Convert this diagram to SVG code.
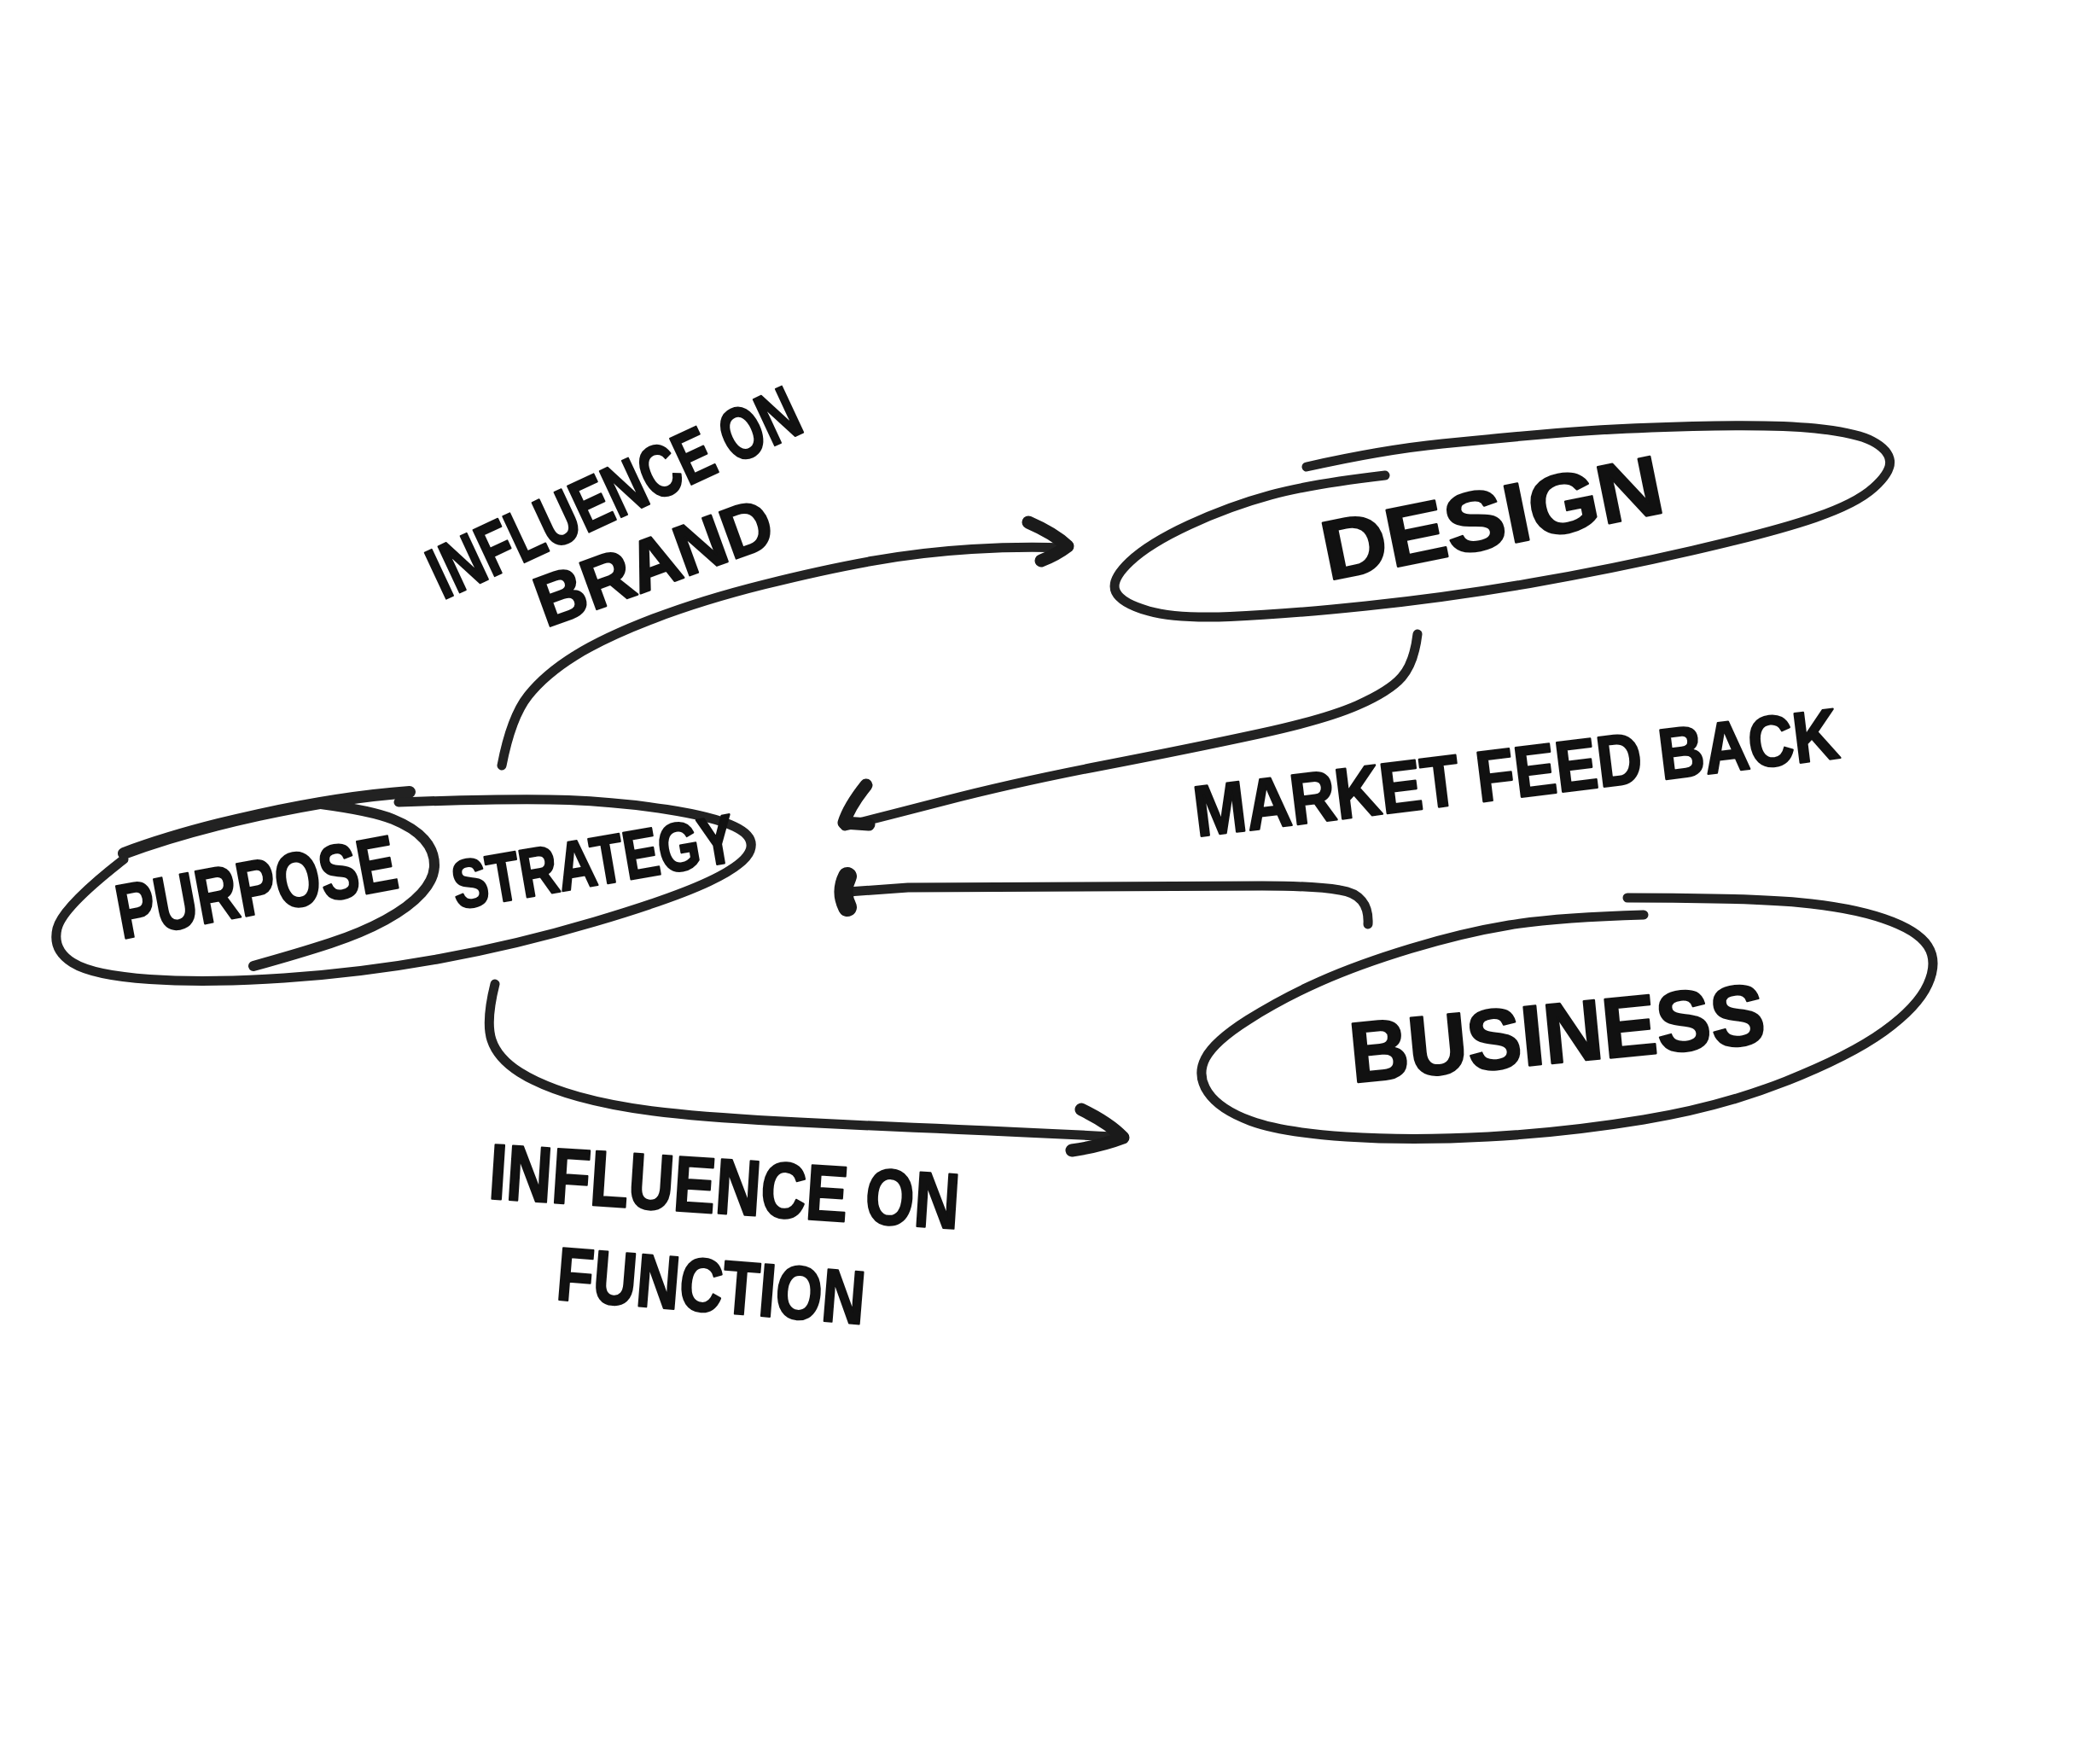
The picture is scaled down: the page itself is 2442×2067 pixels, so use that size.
<svg xmlns="http://www.w3.org/2000/svg" width="2442" height="2067" viewBox="0 0 2442 2067">
<style>
.ln{fill:none;stroke:#222222;stroke-width:11;stroke-linecap:round;stroke-linejoin:round}
.hd{fill:none;stroke:#1a1a1a;stroke-width:15;stroke-linecap:round;stroke-linejoin:round}
.tx{font-family:"Liberation Sans","DejaVu Sans",sans-serif;font-weight:bold;fill:#111111;stroke:#111111;stroke-width:2.5;stroke-linejoin:round;text-anchor:middle}
</style>
<rect width="2442" height="2067" fill="#ffffff"/>
<g id="node-purpose-strategy">
<path class="ln" d="M145,1000 C230,968 370,936 480,928" style="stroke-width:14"/>
<path class="ln" d="M467,940 Q606,935 666.5,937.5 Q727,940 781.5,948.5 Q836,957 860.5,968.5 Q885,980 879,996.5 Q873,1013 830.5,1033 Q788,1053 697,1080 Q606,1107 515,1123.5 Q424,1140 333,1146 Q242,1152 175.5,1147.5 Q109,1143 85,1128 Q61,1113 67,1088 Q73,1063 145,1007"/>
<path class="ln" d="M376,942 Q436,950 460.5,960 Q485,970 497,983.5 Q509,997 509,1013.5 Q509,1030 494,1046.5 Q479,1063 451.5,1078 Q424,1093 387.5,1105 Q351,1117 297,1132" style="stroke-width:12"/>
<text class="tx" x="306" y="1070" font-size="90" transform="rotate(-10.5 306 1070)" textLength="332" lengthAdjust="spacingAndGlyphs">PURPOSE</text>
<text class="tx" x="700" y="1037" font-size="80" transform="rotate(-9.8 700 1037)" textLength="335" lengthAdjust="spacingAndGlyphs">STRATEGY</text>
</g>
<g id="node-design">
<path class="ln" d="M1531,547 Q1620,527 1690,520 Q1760,513 1824,507.5 Q1888,502 1983.5,499.5 Q2079,497 2127,502 Q2175,507 2194,517 Q2213,527 2214.5,540 Q2216,553 2195.5,571.5 Q2175,590 2127,606.5 Q2079,623 1983.5,645 Q1888,667 1792.5,683.5 Q1697,700 1601,710 Q1505,720 1441.5,722.5 Q1378,725 1346,716 Q1314,707 1307.5,693.5 Q1301,680 1323.5,658.5 Q1346,637 1393.5,615 Q1441,593 1489,580 Q1537,567 1623,557"/>
<text class="tx" x="1755" y="640" font-size="98" transform="rotate(-11.5 1755 640)" textLength="405" lengthAdjust="spacingAndGlyphs">DESIGN</text>
</g>
<g id="node-business">
<path class="ln" d="M1926,1072 Q1823,1075 1768.5,1084 Q1714,1093 1653,1111.5 Q1592,1130 1547,1150 Q1502,1170 1462.5,1195 Q1423,1220 1412.5,1240 Q1402,1260 1415.5,1280 Q1429,1300 1465.5,1313.5 Q1502,1327 1577.5,1332 Q1653,1337 1744,1332 Q1835,1327 1926,1312 Q2017,1297 2092.5,1267 Q2168,1237 2207.5,1208.5 Q2247,1180 2259,1153.5 Q2271,1127 2259,1108.5 Q2247,1090 2207.5,1076.5 Q2168,1063 2107.5,1057.5 Q2047,1052 1907,1052"/>
<text class="tx" x="1828" y="1245" font-size="100" transform="rotate(-5.5 1828 1245)" textLength="488" lengthAdjust="spacingAndGlyphs">BUSINESS</text>
</g>
<g id="connectors">
<g id="edge-brand">
<path class="ln" d="M588,897 Q599,840 619,815 Q639,790 673.5,768.5 Q708,747 765.5,725 Q823,703 895,685 Q967,667 1024,657 Q1081,647 1138.5,643.5 Q1196,640 1248,642"/>
<path class="hd" d="M1205,612 Q1235,625 1251,640 Q1238,650 1220,657"/>
</g>
<g id="edge-market-feedback">
<path class="ln" d="M1661,743 Q1657,777 1642.5,793.5 Q1628,810 1590.5,826.5 Q1553,843 1474.5,860 Q1396,877 1292.5,897 Q1189,917 1106,938.5 Q1023,960 990,968"/>
<path class="hd" d="M1015,920 Q995,945 989,964 L1018,966"/>
</g>
<g id="edge-business">
<path class="ln" d="M1603,1083 Q1605,1048 1570,1043 Q1540,1038 1479,1038 L1064,1040 L994,1045"/>
<path class="hd" d="M993,1027 Q984,1045 993,1063" style="stroke-width:22"/>
</g>
<g id="edge-function">
<path class="ln" d="M580,1153 Q569,1197 576,1218.5 Q583,1240 609,1256.5 Q635,1273 678,1285 Q721,1297 778.5,1303.5 Q836,1310 936.5,1315 Q1037,1320 1123,1323.5 Q1209,1327 1306,1332"/>
<path class="hd" d="M1267,1300 Q1300,1316 1316,1333 Q1290,1343 1256,1348"/>
</g>
</g>
<g id="labels">
<text class="tx" x="732" y="604" font-size="86" transform="rotate(-25 732 604)" textLength="470" lengthAdjust="spacingAndGlyphs">INFLUENCE ON</text>
<text class="tx" x="776" y="686" font-size="84" transform="rotate(-20 776 686)" textLength="290" lengthAdjust="spacingAndGlyphs">BRAND</text>
<text class="tx" x="1780" y="934" font-size="84" transform="rotate(-7 1780 934)" textLength="760" lengthAdjust="spacingAndGlyphs">MARKET FEED BACK</text>
<text class="tx" x="847" y="1422" font-size="92" transform="rotate(3.7 847 1422)" textLength="552" lengthAdjust="spacingAndGlyphs">INFLUENCE ON</text>
<text class="tx" x="831" y="1537" font-size="88" transform="rotate(4.6 831 1537)" textLength="362" lengthAdjust="spacingAndGlyphs">FUNCTION</text>
</g>
</svg>
